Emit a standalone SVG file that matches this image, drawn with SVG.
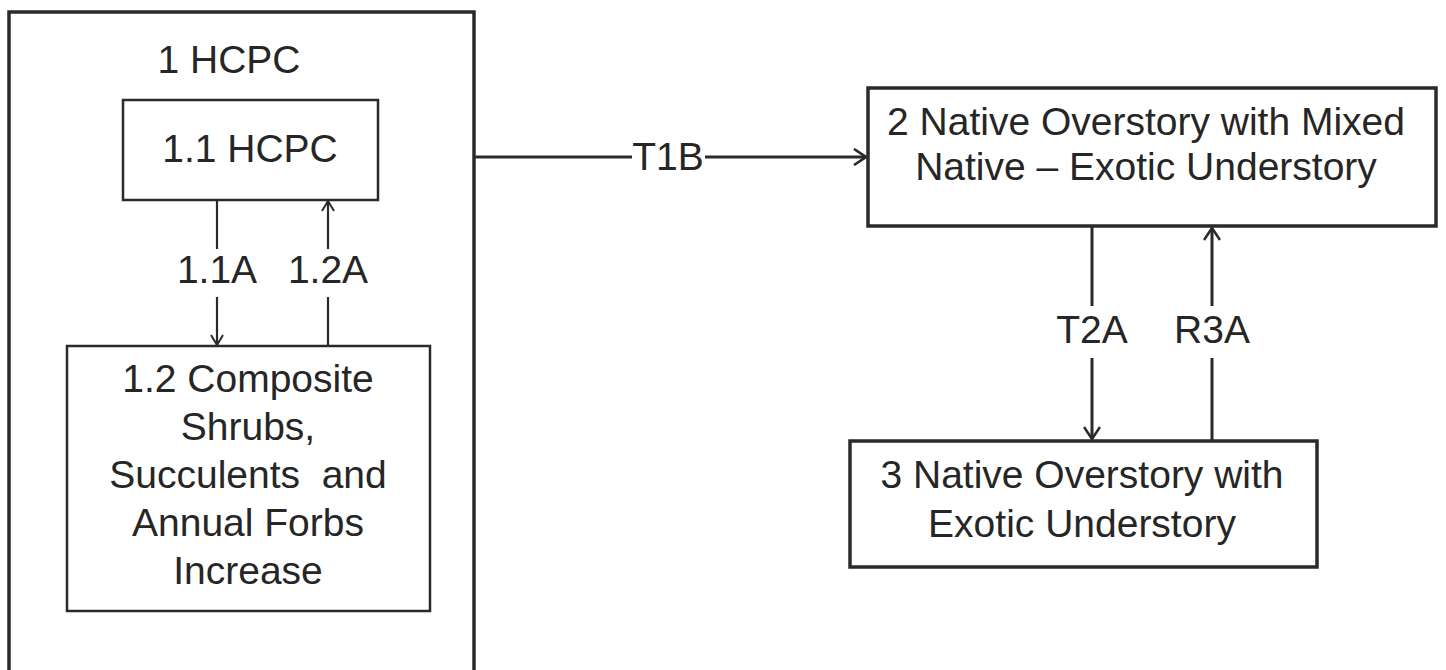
<svg xmlns="http://www.w3.org/2000/svg" width="1446" height="670" viewBox="0 0 1446 670">
<defs>
<style>
.box{fill:#fff;stroke:#2a2a2a;stroke-width:2.5}
.thick{stroke-width:3.5}
.lbl{font-family:"Liberation Sans",Arial,sans-serif;font-size:39px;fill:#262626;text-anchor:middle;white-space:pre}
.con{fill:none;stroke:#2a2a2a;stroke-width:2.2}
.conb{stroke-width:3}
</style>
<marker id="arr" viewBox="0 0 12 14" refX="11" refY="7" markerWidth="12" markerHeight="14" markerUnits="userSpaceOnUse" orient="auto">
<path d="M1,1 L11,7 L1,13" fill="none" stroke="#2a2a2a" stroke-width="2"/>
</marker>
<marker id="arrb" viewBox="0 0 14 18" refX="13" refY="9" markerWidth="14" markerHeight="18" markerUnits="userSpaceOnUse" orient="auto">
<path d="M1,1 L13,9 L1,17" fill="none" stroke="#2a2a2a" stroke-width="2.6"/>
</marker>
</defs>
<rect width="1446" height="670" fill="#fff"/>
<g id="node-1">
<rect class="box thick" x="9" y="12" width="465" height="670"/>
<text class="lbl" x="229" y="73">1 HCPC</text>
</g>
<g id="node-1-1">
<rect class="box" x="123" y="100" width="255" height="100"/>
<text class="lbl" x="250" y="162">1.1 HCPC</text>
</g>
<g id="node-1-2">
<rect class="box" x="67" y="346" width="363" height="265"/>
<text class="lbl" x="248" y="392">1.2 Composite</text>
<text class="lbl" x="248" y="440">Shrubs,</text>
<text class="lbl" x="248" y="488">Succulents  and</text>
<text class="lbl" x="248" y="536">Annual Forbs</text>
<text class="lbl" x="248" y="584">Increase</text>
</g>
<g id="node-2">
<rect class="box thick" x="868" y="88" width="568" height="138"/>
<text class="lbl" x="1146" y="135">2 Native Overstory with Mixed</text>
<text class="lbl" x="1146" y="180">Native – Exotic Understory</text>
</g>
<g id="node-3">
<rect class="box thick" x="850" y="441" width="467" height="126"/>
<text class="lbl" x="1082" y="488">3 Native Overstory with</text>
<text class="lbl" x="1082" y="537">Exotic Understory</text>
</g>
<g id="connectors">
<line class="con" x1="217" y1="201" x2="217" y2="249"/>
<line class="con" x1="217" y1="297" x2="217" y2="345" marker-end="url(#arr)"/>
<text class="lbl" x="217" y="283">1.1A</text>
<line class="con" x1="328" y1="345" x2="328" y2="297"/>
<line class="con" x1="328" y1="249" x2="328" y2="201" marker-end="url(#arr)"/>
<text class="lbl" x="328" y="283">1.2A</text>
<line class="con conb" x1="475" y1="157" x2="632" y2="157"/>
<line class="con conb" x1="705" y1="157" x2="866" y2="157" marker-end="url(#arrb)"/>
<text class="lbl" x="668" y="170">T1B</text>
<line class="con conb" x1="1092" y1="227" x2="1092" y2="306"/>
<line class="con conb" x1="1092" y1="358" x2="1092" y2="439" marker-end="url(#arrb)"/>
<text class="lbl" x="1092" y="343">T2A</text>
<line class="con conb" x1="1212" y1="440" x2="1212" y2="358"/>
<line class="con conb" x1="1212" y1="306" x2="1212" y2="228" marker-end="url(#arrb)"/>
<text class="lbl" x="1212" y="343">R3A</text>
</g>
</svg>
